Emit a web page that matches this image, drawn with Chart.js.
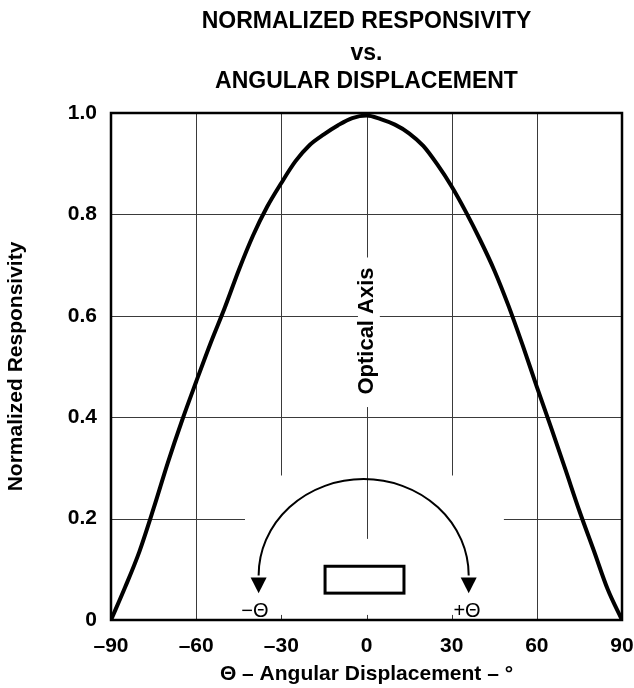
<!DOCTYPE html>
<html lang="en">
<head>
    <meta charset="UTF-8">
    <title>Normalized Responsivity vs. Angular Displacement</title>
    <script src="https://cdn.jsdelivr.net/npm/chart.js"></script>
    <style>
        html, body { margin: 0; padding: 0; background: #fff; }
        #chart { display: block; }
    </style>
</head>
<body>
    <canvas id="chart" width="634" height="688"></canvas>

    <script>
        // Angle (degrees) and normalized responsivity
        const angles = [-90, -85, -80, -75, -70, -65, -60, -55, -50, -45, -40, -35, -30, -25, -20, -15, -10, -5,
                        0, 5, 10, 15, 20, 25, 30, 35, 40, 45, 50, 55, 60, 65, 70, 75, 80, 85, 90];
        const responsivity = [0, 0.065, 0.135, 0.22, 0.31, 0.393, 0.47, 0.545, 0.615, 0.69, 0.758, 0.815, 0.862, 0.905, 0.937, 0.958, 0.976, 0.99,
                              0.995, 0.988, 0.977, 0.96, 0.935, 0.898, 0.855, 0.805, 0.75, 0.69, 0.62, 0.542, 0.46, 0.38, 0.298, 0.215, 0.138, 0.06, 0];

        const xTicks = [-90, -60, -30, 0, 30, 60, 90];
        const yTicks = [0, 0.2, 0.4, 0.6, 0.8, 1.0];

        const titleLines = ['NORMALIZED RESPONSIVITY', 'vs.', 'ANGULAR DISPLACEMENT'];

        const FONT = '"Liberation Sans", Arial, Helvetica, sans-serif';

        // grid segments, in data units; lines not listed are drawn full length
        const vGridSegments = {
            '-30': [[0, 0.01], [0.285, 1]],
            '0': [[0, 0.01], [0.16, 0.42], [0.715, 1]],
            '30': [[0, 0.01], [0.285, 1]]
        };
        const hGridSegments = {
            '0.6': [[-90, -3], [4.7, 90]],
            '0.2': [[-90, -42.8], [48.4, 90]]
        };

        const decor = {
            id: 'decor',
            beforeDatasetsDraw(chart) {
                const ctx = chart.ctx;
                const xs = chart.scales.x, ys = chart.scales.y;
                const a = chart.chartArea;
                ctx.save();
                ctx.strokeStyle = '#3a3a3a';
                ctx.lineWidth = 1;
                ctx.beginPath();
                xTicks.slice(1, -1).forEach(v => {
                    const segs = vGridSegments[String(v)] || [[0, 1]];
                    const px = Math.round(xs.getPixelForValue(v)) + 0.5;
                    segs.forEach(s => {
                        ctx.moveTo(px, ys.getPixelForValue(s[0]));
                        ctx.lineTo(px, ys.getPixelForValue(s[1]));
                    });
                });
                yTicks.slice(1, -1).forEach(v => {
                    const segs = hGridSegments[v.toFixed(1)] || [[-90, 90]];
                    const py = Math.round(ys.getPixelForValue(v)) + 0.5;
                    segs.forEach(s => {
                        ctx.moveTo(xs.getPixelForValue(s[0]), py);
                        ctx.lineTo(xs.getPixelForValue(s[1]), py);
                    });
                });
                ctx.stroke();

                // frame
                ctx.strokeStyle = '#000';
                ctx.lineWidth = 2.5;
                ctx.strokeRect(a.left, a.top, a.right - a.left, a.bottom - a.top);
                ctx.restore();
            },
            afterDatasetsDraw(chart) {
                const ctx = chart.ctx;
                const xs = chart.scales.x, ys = chart.scales.y;
                const a = chart.chartArea;
                const X = v => xs.getPixelForValue(v);
                const Y = v => ys.getPixelForValue(v);
                ctx.save();
                ctx.fillStyle = '#000';
                ctx.strokeStyle = '#000';

                // title
                ctx.textAlign = 'center';
                ctx.textBaseline = 'middle';
                ctx.font = 'bold 23px ' + FONT;
                const cx = (a.left + a.right) / 2;
                [22, 54, 82].forEach((ty, i) => ctx.fillText(titleLines[i], cx, ty));

                // optical axis label
                ctx.save();
                ctx.translate(X(0), Y(0.57));
                ctx.rotate(-Math.PI / 2);
                ctx.font = 'bold 22px ' + FONT;
                ctx.fillText('Optical Axis', 0, 0);
                ctx.restore();

                // rotation arc with arrows
                const ecx = X(-1), ecy = Y(0.088);
                const rx = X(36) - X(-1), ry = Y(0.088) - Y(0.278);
                ctx.lineWidth = 2;
                ctx.beginPath();
                ctx.ellipse(ecx, ecy, rx, ry, 0, Math.PI, 2 * Math.PI);
                ctx.stroke();
                [ecx - rx, ecx + rx].forEach(ax => {
                    ctx.beginPath();
                    ctx.moveTo(ax - 8, ecy + 2);
                    ctx.lineTo(ax + 8, ecy + 2);
                    ctx.lineTo(ax, Y(0.053));
                    ctx.closePath();
                    ctx.fill();
                });

                // detector outline
                ctx.lineWidth = 3;
                ctx.strokeRect(X(-14.6), Y(0.106), X(13.2) - X(-14.6), Y(0.053) - Y(0.106));

                // theta labels
                ctx.font = '20px ' + FONT;
                ctx.fillText('\u2212\u0398', X(-39.3), Y(0.017));
                ctx.fillText('+\u0398', X(35.4), Y(0.017));
                ctx.restore();
            }
        };

        new Chart(document.getElementById('chart').getContext('2d'), {
            type: 'line',
            data: {
                datasets: [{
                    data: angles.map((x, i) => ({ x: x, y: responsivity[i] })),
                    borderColor: '#000',
                    borderWidth: 4,
                    pointRadius: 0,
                    cubicInterpolationMode: 'monotone',
                    fill: false
                }]
            },
            options: {
                responsive: false,
                devicePixelRatio: 1,
                animation: false,
                layout: { padding: { left: 0, right: 12, top: 113, bottom: 0 } },
                plugins: { legend: { display: false }, tooltip: { enabled: false } },
                scales: {
                    x: {
                        type: 'linear',
                        min: -90, max: 90,
                        afterBuildTicks: s => { s.ticks = xTicks.map(v => ({ value: v })); },
                        afterFit: s => { s.height = 68; s.paddingLeft = 0; s.paddingRight = 0; },
                        grid: { display: false, drawTicks: false },
                        border: { display: false },
                        ticks: {
                            color: '#000',
                            padding: 14,
                            maxRotation: 0,
                            font: { family: FONT, size: 21, weight: 'bold' },
                            callback: v => v < 0 ? '\u2013' + Math.abs(v) : String(v)
                        },
                        title: {
                            display: true,
                            text: '\u0398 \u2013 Angular Displacement \u2013 \u00b0',
                            color: '#000',
                            font: { family: FONT, size: 21, weight: 'bold' },
                            padding: { top: 0, bottom: 1 }
                        }
                    },
                    y: {
                        min: 0, max: 1,
                        afterBuildTicks: s => { s.ticks = yTicks.map(v => ({ value: v })); },
                        afterFit: s => { s.width = 111; s.paddingTop = 0; s.paddingBottom = 0; },
                        grid: { display: false, drawTicks: false },
                        border: { display: false },
                        ticks: {
                            color: '#000',
                            padding: 14,
                            font: { family: FONT, size: 21, weight: 'bold' },
                            callback: v => v === 0 ? '0' : v.toFixed(1)
                        },
                        title: {
                            display: true,
                            text: 'Normalized Responsivity',
                            color: '#000',
                            font: { family: FONT, size: 21, weight: 'bold' },
                            padding: { top: 4, bottom: 0 }
                        }
                    }
                }
            },
            plugins: [decor]
        });
    </script>
</body>
</html>
